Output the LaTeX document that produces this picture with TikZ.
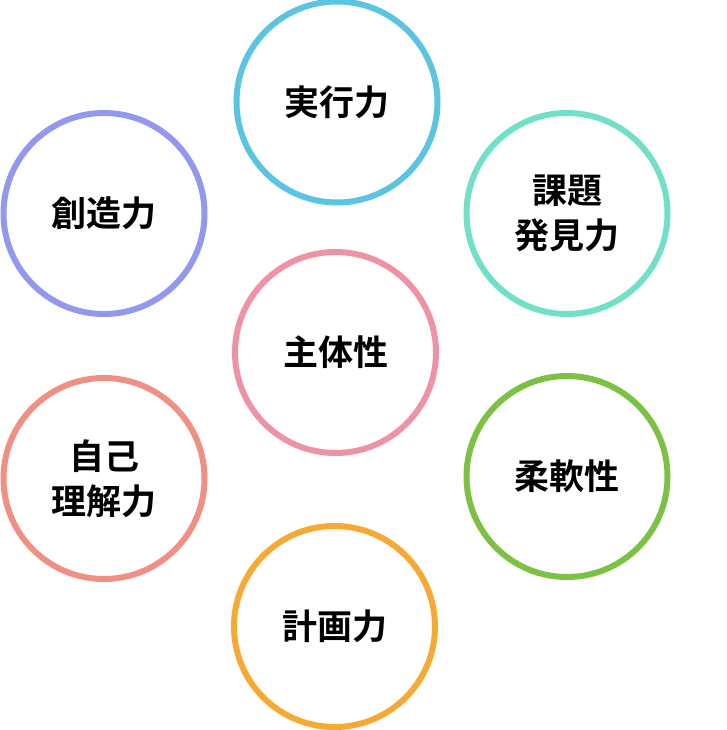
\documentclass[tikz,border=0pt]{standalone}
\usepackage{fontspec}
\newfontfamily\cjk{Noto Sans CJK JP Bold}
\definecolor{cBlue}{HTML}{5BC4E1}
\definecolor{cAqua}{HTML}{72E0C8}
\definecolor{cViolet}{HTML}{9497EE}
\definecolor{cPink}{HTML}{EE93A3}
\definecolor{cSalmon}{HTML}{EE9184}
\definecolor{cGreen}{HTML}{7DC144}
\definecolor{cOrange}{HTML}{F5AA35}
\tikzset{
  skill/.style={circle, draw=#1, line width=6pt, minimum size=201pt, inner sep=0pt,
    align=center, font=\cjk\fontsize{35}{45}\selectfont, text=black}
}
\begin{document}
\begin{tikzpicture}[x=1pt,y=-1pt]
\useasboundingbox (0,0) rectangle (726,730);
\node[skill=cBlue]   (jikko)  at (337,102)   {実行力};
\node[skill=cAqua]   (kadai)  at (567,213.5) {課題\\発見力};
\node[skill=cViolet] (sozo)   at (104,213.5) {創造力};
\node[skill=cPink]   (shutai) at (335.5,352.5) {主体性};
\node[skill=cSalmon] (jiko)   at (104,478.5) {自己\\理解力};
\node[skill=cGreen]  (junan)  at (567,476.5) {柔軟性};
\node[skill=cOrange] (keikaku) at (334.5,626.5) {計画力};
\end{tikzpicture}
\end{document}
